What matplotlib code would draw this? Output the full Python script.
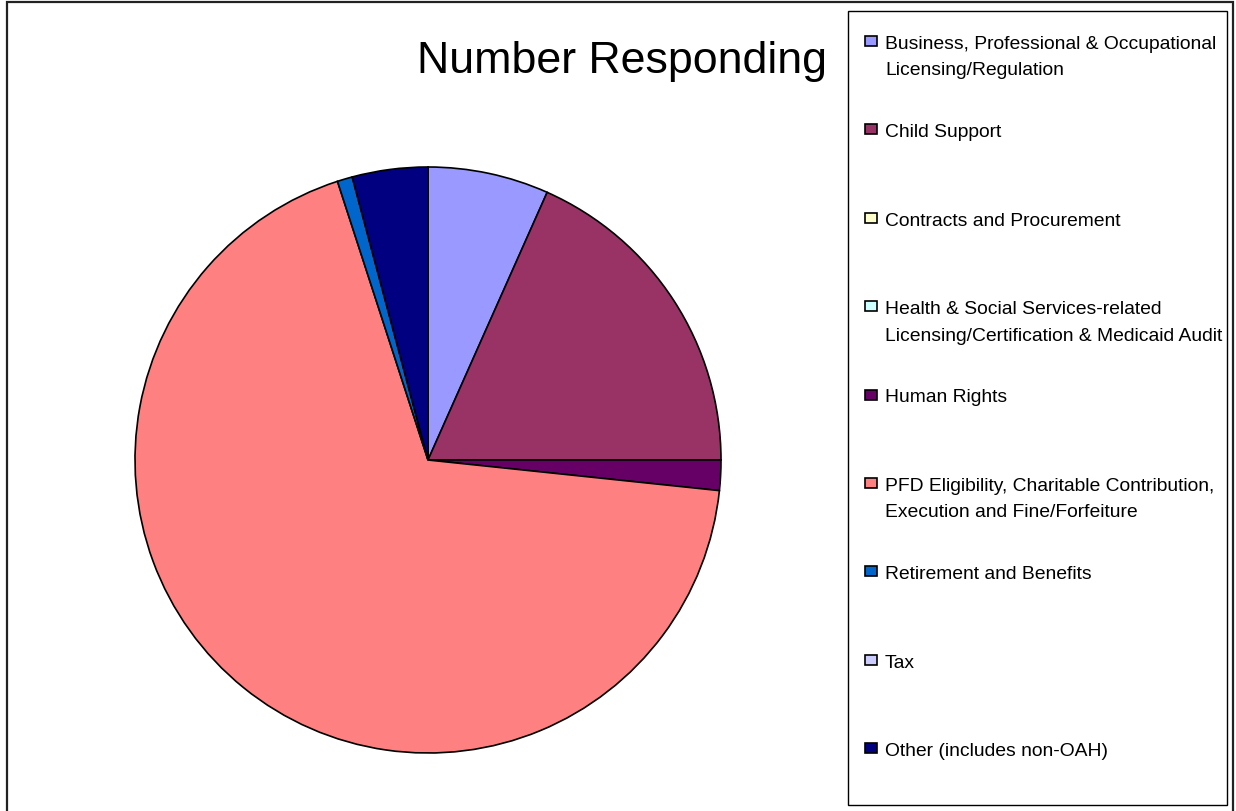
import matplotlib.pyplot as plt
from matplotlib.patches import Rectangle

# responses per case type
categories = [
    "Business, Professional & Occupational\nLicensing/Regulation",
    "Child Support",
    "Contracts and Procurement",
    "Health & Social Services-related\nLicensing/Certification & Medicaid Audit",
    "Human Rights",
    "PFD Eligibility, Charitable Contribution,\nExecution and Fine/Forfeiture",
    "Retirement and Benefits",
    "Tax",
    "Other (includes non-OAH)",
]
responses = [8, 22, 0, 0, 2, 82, 1, 0, 5]
colors = ["#9999FF", "#993366", "#FFFFCC", "#CCFFFF", "#660066",
          "#FF8080", "#0066CC", "#CCCCFF", "#000080"]

W, H = 1236, 812
plt.rcParams['font.family'] = ['Liberation Sans', 'DejaVu Sans']

fig = plt.figure(figsize=(W / 100, H / 100), dpi=100)


def fx(x):  # pixel -> figure fraction
    return x / W


def fy(y):
    return 1 - y / H


# outer chart border
fig.patches.append(Rectangle((fx(7), fy(816)), fx(1233) - fx(7), fy(3) - fy(816),
                             transform=fig.transFigure, fill=False,
                             edgecolor="#222222", linewidth=1.6))

# pie, skipping empty categories so no zero-width slivers get drawn
ax = fig.add_axes([fx(135), fy(754), fx(721) - fx(135), fy(168) - fy(754)])
vals = [v for v in responses if v > 0]
cols = [c for v, c in zip(responses, colors) if v > 0]
ax.pie(vals, colors=cols, startangle=90, counterclock=False, radius=1,
       wedgeprops=dict(edgecolor="black", linewidth=1.2))
ax.set_xlim(-1, 1)
ax.set_ylim(-1, 1)
ax.set_aspect('equal')
ax.axis('off')

fig.text(fx(622), fy(73), "Number Responding", ha='center', va='baseline',
         fontsize=32.2)

# legend box drawn by hand so the swatch sits on the first text line
fig.patches.append(Rectangle((fx(848), fy(806)), fx(1227) - fx(848), fy(12) - fy(806),
                             transform=fig.transFigure, fill=False,
                             edgecolor="black", linewidth=1))
fs = 13.9
for i, (lab, c) in enumerate(zip(categories, colors)):
    yc = 42 + i * 88.4
    fig.patches.append(Rectangle((fx(865), fy(yc + 5)), fx(877) - fx(865), fy(yc - 5) - fy(yc + 5),
                                 transform=fig.transFigure, facecolor=c,
                                 edgecolor="black", linewidth=1.2))
    for k, line in enumerate(lab.split("\n")):
        fig.text(fx(885), fy(yc + 6.9 + k * 26.5), line, ha='left', va='baseline',
                 fontsize=fs)

plt.savefig('out.png', dpi=100)
